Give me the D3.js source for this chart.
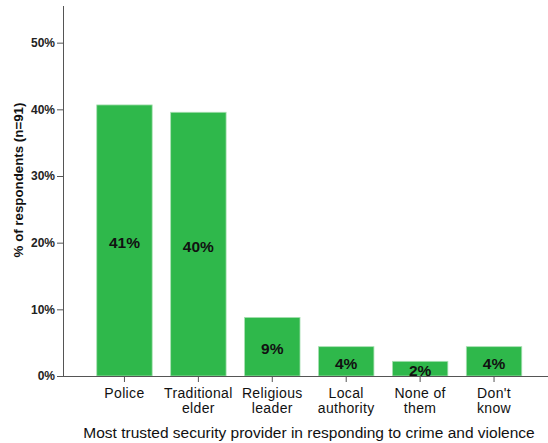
<!DOCTYPE html>
<html><head><meta charset="utf-8">
<script src="https://cdn.jsdelivr.net/npm/d3@7"></script>
<style>body{margin:0;background:#fff}svg{display:block}text{font-family:Arial,"Liberation Sans",sans-serif}</style>
</head><body><svg id="c" width="548" height="443"></svg>
<script>
const categories = [["Police"],["Traditional","elder"],["Religious","leader"],["Local","authority"],["None of","them"],["Don't","know"]];
const values = [40.66, 39.56, 8.79, 4.40, 2.20, 4.40];
const valueLabels = ["41%","40%","9%","4%","2%","4%"];
const yTicks = [0,10,20,30,40,50];

const svg = d3.select("#c");
const keys = categories.map((c,i)=>i);
const x = d3.scaleBand().domain(keys).range([87.5,531]).paddingInner(0.25).paddingOuter(0.125);
const y = d3.scaleLinear().domain([0,55.5]).range([376,6]);

// bars
svg.selectAll("rect.bar").data(values).join("rect").attr("class","bar")
  .attr("x",(d,i)=>x(i)).attr("width",x.bandwidth())
  .attr("y",d=>y(d)).attr("height",d=>y(0)-y(d))
  .attr("fill","#2fb84b").attr("stroke","#a8e0b2").attr("stroke-width",0.8);

// value labels
svg.selectAll("text.val").data(values).join("text").attr("class","val")
  .attr("x",(d,i)=>x(i)+x.bandwidth()/2)
  .attr("y",d=>(y(d)+y(0))/2+2)
  .attr("dy","0.35em").attr("text-anchor","middle")
  .attr("font-size",15.5).attr("font-weight","bold").attr("fill","#111")
  .text((d,i)=>valueLabels[i]);

// y axis
const ya = svg.append("g").attr("transform","translate(63,0)")
  .call(d3.axisLeft(y).tickValues(yTicks).tickFormat(d=>d+"%").tickSize(6).tickSizeOuter(0));
ya.select(".domain").attr("stroke","#555").attr("d","M0.5,6V376.5");
ya.selectAll(".tick line").attr("stroke","#555");
ya.selectAll(".tick text").attr("font-size",12).attr("font-weight","bold").attr("fill","#222")
  .attr("x",-8).attr("font-family","Arial,'Liberation Sans',sans-serif");

// x axis
const xa = svg.append("g").attr("transform","translate(0,376)")
  .call(d3.axisBottom(x).tickSize(6).tickSizeOuter(0).tickFormat(""));
xa.select(".domain").attr("stroke","#555").attr("d","M63,0.5H548");
xa.selectAll(".tick line").attr("stroke","#555");
xa.selectAll(".tick text").remove();

// category labels (one text per line)
const catLines = [];
categories.forEach((c,i)=>c.forEach((t,j)=>catLines.push({i,j,t})));
svg.selectAll("text.cat").data(catLines).join("text").attr("class","cat")
  .attr("text-anchor","middle").attr("font-size",14).attr("letter-spacing",0.35).attr("fill","#111")
  .attr("x",d=>x(d.i)+x.bandwidth()/2)
  .attr("y",d=>398+d.j*15)
  .text(d=>d.t);

// axis titles
svg.append("text").attr("x",309).attr("y",438).attr("text-anchor","middle")
  .attr("font-size",15.5).attr("fill","#111")
  .text("Most trusted security provider in responding to crime and violence");
svg.append("text").attr("transform","translate(23,180) rotate(-90)").attr("text-anchor","middle")
  .attr("font-size",13.3).attr("font-weight","bold").attr("fill","#111")
  .text("% of respondents (n=91)");
</script></body></html>
